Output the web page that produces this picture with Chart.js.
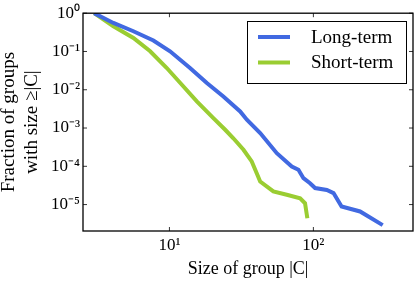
<!DOCTYPE html>
<html>
<head>
<meta charset="utf-8">
<script src="https://cdn.jsdelivr.net/npm/chart.js@4.4.1/dist/chart.umd.min.js"></script>
<style>
  html, body { margin: 0; padding: 0; background: #fff; }
  #wrap { width: 415px; height: 282px; position: relative; }
</style>
</head>
<body>
<div id="wrap"><canvas id="c" width="415" height="282"></canvas></div>
<script>
// ---- data ----
const longTermX  = [3, 4.08, 5.62, 7.74, 10.1, 13.9, 18.2, 23.7, 31.0, 34.5, 42.7, 55.7, 70.8, 78.7, 85.3, 94.8, 102.8, 124, 138, 157, 211, 303];
const longTermY  = [1, 0.557, 0.338, 0.193, 0.101, 0.037, 0.015, 0.0067, 0.00272, 0.00165, 7.4e-4, 2.2e-4, 9.9e-5, 8.1e-5, 4.9e-5, 3.6e-5, 2.7e-5, 2.4e-5, 2.0e-5, 8.9e-6, 6.6e-6, 2.9e-6];
const shortTermX = [3, 4.08, 5.62, 7.35, 9.59, 11.9, 15.5, 20.2, 24.4, 27.8, 32.7, 37.3, 40.4, 42.7, 52.7, 65.3, 80.9, 87.5, 90.8];
const shortTermY = [1, 0.457, 0.226, 0.101, 0.037, 0.015, 0.00497, 0.00182, 9.0e-4, 5.4e-4, 2.7e-4, 1.34e-4, 6.6e-5, 4.0e-5, 2.2e-5, 1.8e-5, 1.46e-5, 1.08e-5, 4.4e-6];
const seriesLabels = ['Long-term', 'Short-term'];
const xTickValues = [10, 100];
const yTickValues = [1, 0.1, 0.01, 0.001, 0.0001, 0.00001];
const xTitle = 'Size of group |C|';
const yTitle = ['Fraction of groups', 'with size \u2265|C|'];

const SUP = {'0':'\u2070','1':'\u00b9','2':'\u00b2','3':'\u00b3','4':'\u2074','5':'\u2075','6':'\u2076','7':'\u2077','8':'\u2078','9':'\u2079','-':'\u207b'};
function powLabel(v) {
  const e = String(Math.round(Math.log10(v)));
  return '10' + e.split('').map(ch => SUP[ch]).join('');
}
const FONT = "'Liberation Serif', 'Times New Roman', serif";

const framePlugin = {
  id: 'frame',
  afterDatasetsDraw(chart) {
    const ctx = chart.ctx, a = chart.chartArea;
    ctx.save();
    ctx.strokeStyle = '#000';
    ctx.lineWidth = 1.3;
    ctx.strokeRect(a.left, a.top, a.right - a.left, a.bottom - a.top);
    ctx.lineWidth = 0.8;
    ctx.beginPath();
    const xs = chart.scales.x, ys = chart.scales.y;
    xTickValues.forEach(v => {
      const p = xs.getPixelForValue(v);
      ctx.moveTo(p, a.bottom); ctx.lineTo(p, a.bottom - 4);
      ctx.moveTo(p, a.top); ctx.lineTo(p, a.top + 4);
    });
    yTickValues.forEach(v => {
      const p = ys.getPixelForValue(v);
      ctx.moveTo(a.left, p); ctx.lineTo(a.left + 4, p);
      ctx.moveTo(a.right, p); ctx.lineTo(a.right - 4, p);
    });
    ctx.stroke();
    // legend box
    const lx = 247, ly = 21, lw = 159, lh = 62;
    ctx.fillStyle = '#fff';
    ctx.fillRect(lx, ly, lw, lh);
    ctx.lineWidth = 1;
    ctx.strokeRect(lx + 0.5, ly + 0.5, lw, lh);
    chart.data.datasets.forEach((ds, i) => {
      const yy = ly + 16 + i * 25.5;
      ctx.strokeStyle = ds.borderColor;
      ctx.lineWidth = 4;
      ctx.beginPath();
      ctx.moveTo(lx + 11, yy); ctx.lineTo(lx + 43, yy);
      ctx.stroke();
      ctx.fillStyle = '#000';
      ctx.font = '19px ' + FONT;
      ctx.textBaseline = 'middle';
      ctx.textAlign = 'left';
      ctx.fillText(ds.label, lx + 64, yy + 1);
    });
    ctx.restore();
  }
};

new Chart(document.getElementById('c'), {
  type: 'line',
  data: {
    datasets: [
      { label: seriesLabels[0], data: longTermX.map((x, i) => ({x, y: longTermY[i]})), borderColor: '#4169E1', borderWidth: 4, pointRadius: 0, tension: 0, fill: false },
      { label: seriesLabels[1], data: shortTermX.map((x, i) => ({x, y: shortTermY[i]})), borderColor: '#9ACD32', borderWidth: 4, pointRadius: 0, tension: 0, fill: false }
    ]
  },
  options: {
    responsive: false,
    animation: false,
    devicePixelRatio: 1,
    layout: { padding: { top: 12, right: 2, left: 0, bottom: 0 } },
    plugins: { legend: { display: false }, tooltip: { enabled: false } },
    scales: {
      x: {
        type: 'logarithmic',
        min: 2.51, max: 492,
        afterBuildTicks: s => { s.ticks = xTickValues.map(v => ({ value: v })); },
        afterFit: s => { s.height = 51; },
        grid: { display: false, drawTicks: false },
        border: { display: false },
        ticks: { callback: v => powLabel(v), color: '#000', font: { family: FONT, size: 17 }, padding: 4, maxRotation: 0, autoSkip: false },
        title: { display: true, text: xTitle, color: '#000', font: { family: FONT, size: 18, lineHeight: 1.2 }, padding: { top: 0, bottom: 1.5 } }
      },
      y: {
        type: 'logarithmic',
        min: 2.04e-6, max: 1,
        afterBuildTicks: s => { s.ticks = yTickValues.map(v => ({ value: v })); },
        afterFit: s => { s.width = 83; },
        grid: { display: false, drawTicks: false },
        border: { display: false },
        ticks: { callback: v => powLabel(v), color: '#000', font: { family: FONT, size: 17 }, padding: 3, autoSkip: false },
        title: { display: true, text: yTitle, color: '#000', font: { family: FONT, size: 19, lineHeight: 1.2 }, padding: { top: -2.5, bottom: 0 } }
      }
    }
  },
  plugins: [framePlugin]
});
</script>
</body>
</html>
